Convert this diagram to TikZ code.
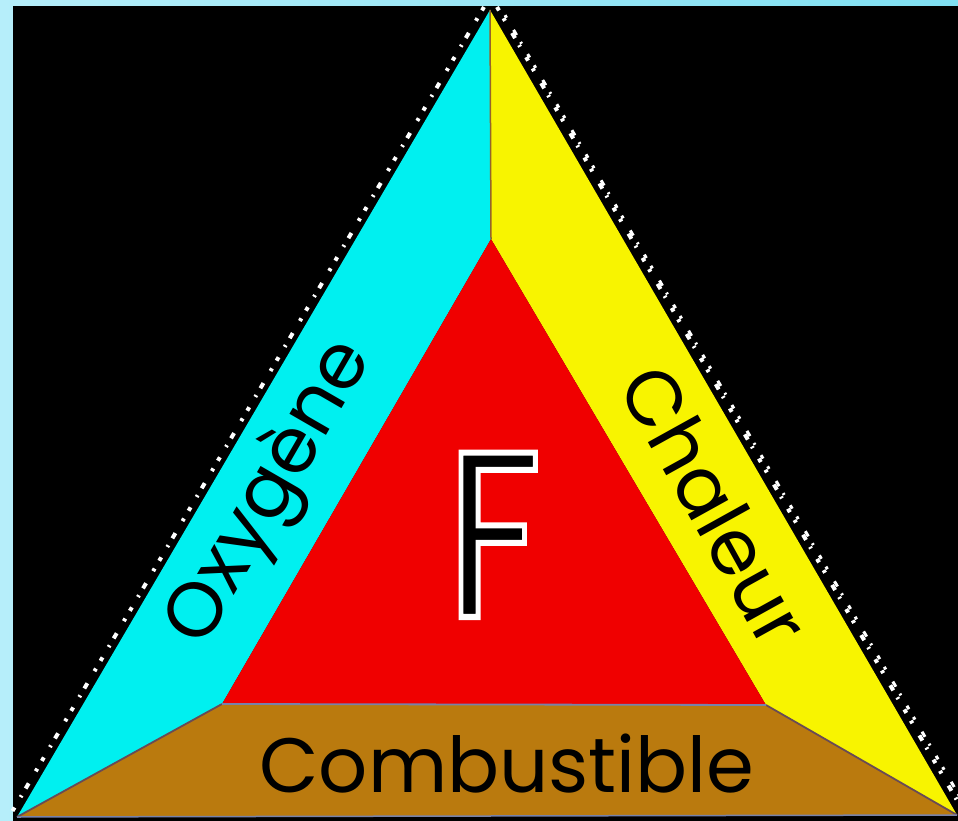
\documentclass[tikz,border=0pt]{standalone}
\usepackage{fontspec}
\setmainfont{Poppins}
\usetikzlibrary{calc}
\definecolor{bgL}{RGB}{182,238,250}
\definecolor{bgR}{RGB}{128,224,242}
\definecolor{cyanF}{RGB}{0,240,240}
\definecolor{yelF}{RGB}{248,244,0}
\definecolor{redF}{RGB}{240,0,0}
\definecolor{brownF}{RGB}{186,122,14}
\definecolor{divline}{RGB}{150,100,40}
\definecolor{edgeline}{RGB}{105,75,85}
\definecolor{blueline}{RGB}{120,130,170}
\tikzset{
  face/.style={draw=none},
  lab/.style={font=\fontsize{77}{77}\selectfont, text=black, inner sep=0pt},
  fringe/.style={draw=white, line width=4pt, dash pattern=on 4pt off 9pt on 3pt off 14pt on 6pt off 8pt on 2pt off 12pt}
}
\begin{document}
\begin{tikzpicture}[x=1pt,y=-1pt]
\useasboundingbox (0,0) rectangle (958,821);
\shade[left color=bgL, right color=bgR] (0,0) rectangle (958,821);
\fill[black] (13,6) rectangle (958,821);
% corners
\coordinate (A) at (490,10);
\coordinate (BL) at (17,817);
\coordinate (BR) at (957,815);
\coordinate (I) at (491,239);
\coordinate (IL) at (222,704);
\coordinate (IR) at (766,705);
% white speckle fringe
\draw[fringe] ($(A)+(-6,-3)$) -- ($(BL)+(-6,-3.5)$);
\draw[fringe] ($(A)+(7,-3)$) -- ($(BR)+(6.5,-3.5)$);
\draw[fringe, dash phase=7pt, line width=3pt] ($(A)+(12,0)$) -- ($(BR)+(10,-6)$);
% faces
\fill[face, cyanF] (A) -- (I) -- (IL) -- (BL) -- cycle;
\fill[face, yelF] (A) -- (BR) -- (IR) -- (I) -- cycle;
\fill[face, redF] (I) -- (IL) -- (IR) -- cycle;
\fill[face, brownF] (BL) -- (IL) -- (IR) -- (BR) -- cycle;
% seams
\draw[divline, line width=1.5pt] (A) -- (I);
\draw[edgeline, line width=1.8pt] (BL) -- (IL) (IR) -- (BR);
\draw[blueline, line width=1.8pt] (IL) -- (IR);
\draw[blueline, line width=1.5pt] (BL) -- (BR);
% labels
\node[lab, rotate=60] (oxy) at (271,493) {Oxygène};
\node[lab, rotate=-61] (cha) at (715,505) {Chaleur};
\node[lab, anchor=base] (com) at (507,792) {Combustible};
\node[font=\fontsize{236}{236}\selectfont, text=black, inner sep=0pt, anchor=base, xscale=0.8] (F) at (494,617)
  {\special{pdf:literal direct 2 Tr 1 1 1 RG 6 w}F\special{pdf:literal direct 0 Tr}};
\end{tikzpicture}
\end{document}
